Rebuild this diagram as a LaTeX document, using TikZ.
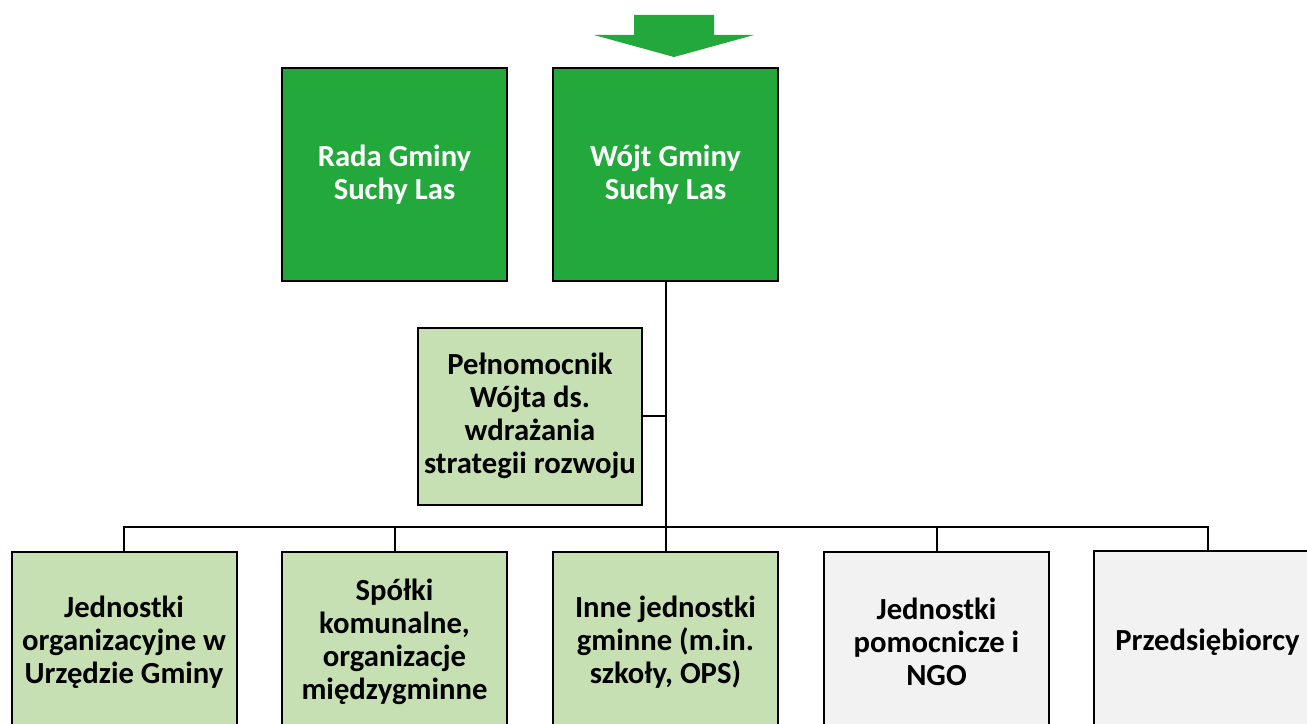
\documentclass[tikz,border=0pt]{standalone}
\usepackage{fontspec}
\setmainfont{Carlito}
\definecolor{dkgreen}{RGB}{35,168,60}
\definecolor{ltgreen}{RGB}{198,224,180}
\definecolor{ltgrey}{RGB}{242,242,242}
\begin{document}
\begin{tikzpicture}[x=0.75pt,y=-0.75pt,
  box/.style={draw=black,line width=1.5pt,align=center,inner sep=0pt,
    font=\fontsize{23}{24.75}\selectfont\bfseries},
  topbox/.style={box,fill=dkgreen,text=white,minimum width=168.75pt,minimum height=159.75pt},
  midbox/.style={box,fill=ltgreen,minimum width=168pt,minimum height=132.75pt},
  botgreen/.style={box,fill=ltgreen,minimum width=168.75pt,minimum height=135pt},
  botgrey/.style={box,fill=ltgrey,minimum width=168.75pt,minimum height=135pt},
  conn/.style={draw=black,line width=1.5pt}]
\useasboundingbox (0,0) rectangle (1307,724);
% arrow
\fill[dkgreen] (634,15) -- (714,15) -- (714,35) -- (754,35) -- (674,57) -- (594,35) -- (634,35) -- cycle;
% top boxes
\node[topbox] (rada) at (394.5,174.5) {Rada Gminy\\Suchy Las};
\node[topbox] (wojt) at (665.5,174.5) {Wójt Gminy\\Suchy Las};
% middle
\node[midbox] (peln) at (530,416) {Pełnomocnik\\Wójta ds.\\wdrażania\\strategii rozwoju};
% bottom
\node[botgreen] (jedn) at (124,642) {Jednostki\\organizacyjne w\\Urzędzie Gminy};
\node[botgreen] (spolki) at (394.5,642) {Spółki\\komunalne,\\organizacje\\międzygminne};
\node[botgreen] (inne) at (665.5,642) {Inne jednostki\\gminne (m.in.\\szkoły, OPS)};
\node[botgrey] (pom) at (936.5,642) {Jednostki\\pomocnicze i\\NGO};
\node[botgrey, draw=none] (przed) at (1207.5,642) {Przedsiębiorcy};
\draw[line width=1.5pt] (przed.south east) -- (przed.south west) -- (przed.north west) -- (przed.north east);
% connectors
\coordinate (bus) at (665.5,527);
\draw[conn] (wojt.south) -- (inne.north);
\draw[conn] (peln.east) -- (peln.east -| wojt.south);
\draw[conn] (jedn.north) -- (jedn.north |- bus) -- (przed.north |- bus) -- (przed.north);
\draw[conn] (spolki.north) -- (spolki.north |- bus);
\draw[conn] (pom.north) -- (pom.north |- bus);
\end{tikzpicture}
\end{document}
